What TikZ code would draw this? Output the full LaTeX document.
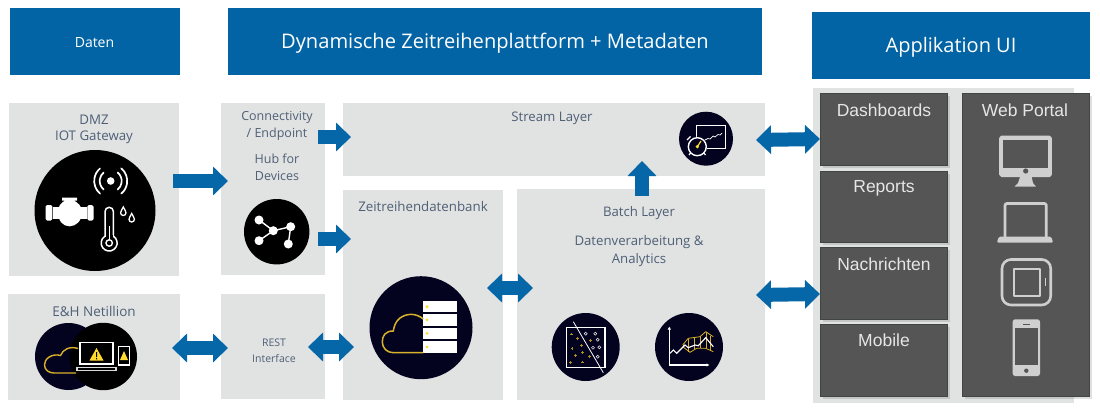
\documentclass[tikz,border=0pt]{standalone}
\usepackage{fontspec}
\setmainfont{Open Sans}
\newfontfamily\arialfont{Liberation Sans}
\usetikzlibrary{arrows.meta}
\definecolor{hdrblue}{HTML}{0264A4}
\definecolor{flowblue}{HTML}{0567A8}
\definecolor{panelgrey}{HTML}{E1E3E3}
\definecolor{darkbox}{HTML}{555555}
\definecolor{darkedge}{HTML}{3F4444}
\definecolor{slatetext}{HTML}{4F5F75}
\definecolor{navy}{HTML}{03021F}
\definecolor{goldline}{HTML}{D9B22B}
\definecolor{yellowdot}{HTML}{FFD92E}
\definecolor{icongrey}{HTML}{CFCFCF}
\definecolor{labelgrey}{HTML}{E6E6E6}
\tikzset{
  hdr/.style={fill=hdrblue,draw=none,inner sep=0pt,outer sep=0pt,text=white},
  layerbox/.style={fill=panelgrey,draw=none,inner sep=0pt,outer sep=0pt},
  uibox/.style={fill=darkbox,draw=darkedge,line width=.8pt,inner sep=0pt,outer sep=0pt},
  lbl/.style={text=slatetext,inner sep=0pt,yshift=-1.5pt,font=\fontsize{#1}{#1}\selectfont},
  uilbl/.style={text=labelgrey,inner sep=0pt,font=\arialfont\fontsize{17.5}{18}\selectfont},
  flow/.style={line width=14pt,flowblue,line cap=butt,-{Triangle[length=15pt,width=28pt]}},
  flowboth/.style={line width=14pt,flowblue,line cap=butt,{Triangle[length=15pt,width=28pt]}-{Triangle[length=15pt,width=28pt]}},
  flowsh/.style={flow,black,opacity=.13},
  flowbothsh/.style={flowboth,black,opacity=.13},
  wline/.style={draw=white,line width=1.4pt},
  gline/.style={draw=goldline,line width=1.4pt},
  iline/.style={draw=icongrey,line width=2.2pt,line join=round},
  ifill/.style={fill=icongrey,draw=none},
}
\newcommand{\bx}[6]{%
  \pgfmathsetmacro\bxw{#5-#3}\pgfmathsetmacro\bxh{#6-#4}%
  \pgfmathsetmacro\bxx{(#5+#3)/2}\pgfmathsetmacro\bxy{(#6+#4)/2}%
  \node[#1,minimum width=\bxw pt,minimum height=\bxh pt] (#2) at (\bxx,\bxy) {};}
\begin{document}
\begin{tikzpicture}[x=1pt,y=-1pt]
\useasboundingbox (0,0) rectangle (1100,410);
% headers
\bx{hdr}{hdata}{9.5}{7.5}{179.5}{74.5}
\bx{hdr}{hplat}{228}{7.5}{762}{74.5}
\bx{hdr}{happ}{812}{11.5}{1090}{78.5}
\node[text=white,inner sep=0pt,yshift=-2pt,font=\fontsize{14}{14}\selectfont] (tdata) at (hdata) {Daten};
\node[text=white,inner sep=0pt,yshift=-2.5pt,font=\fontsize{20.1}{21}\selectfont] (tplat) at (hplat) {Dynamische Zeitreihenplattform + Metadaten};
\node[text=white,inner sep=0pt,yshift=-2.5pt,font=\fontsize{20}{21}\selectfont] (tapp) at (happ) {Applikation UI};
% panels
\bx{layerbox}{dmz}{9}{103}{179}{276}
\bx{layerbox}{net}{8}{294}{180}{400}
\bx{layerbox}{conn}{221}{103}{325}{275}
\bx{layerbox}{rest}{221}{294}{325}{399}
\bx{layerbox}{stream}{343}{103}{765}{176}
\bx{layerbox}{zeit}{343}{190}{503}{400}
\bx{layerbox}{batch}{517}{189}{765}{400}
\bx{layerbox}{uipanel}{813}{88}{1074}{403}
% labels
\node[lbl=13.3] (t1) at (94,118) {DMZ};
\node[lbl=13.3] (t2) at (94,136) {IOT Gateway};
\node[lbl=13.5] (t3) at (94,310) {E\&H Netillion};
\node[lbl=12.5] (t4) at (277,116) {Connectivity};
\node[lbl=12.5] (t5) at (277,133) {/ Endpoint};
\node[lbl=12.5] (t6) at (277,157) {Hub for};
\node[lbl=12.5] (t7) at (277,174) {Devices};
\node[lbl=10.5] (t8) at (274,341) {REST};
\node[lbl=10.5] (t9) at (274,357) {Interface};
\node[lbl=13.3] (t10) at (423,205) {Zeitreihendatenbank};
\node[lbl=13.2] (t11) at (552,117) {Stream Layer};
\node[lbl=13.2] (t12) at (639,212) {Batch Layer};
\node[lbl=13.2] (t13) at (639,241) {Datenverarbeitung \&};
\node[lbl=13.2] (t14) at (639,259) {Analytics};
% ui boxes with shadow
\foreach \a/\b/\c/\d in {820/93/947/165,820/171/947/242,820/247/947/319,820/324/947/396,962/93/1089/396}{
  \fill[black,opacity=.12] (\a+3,\b+3) rectangle (\c+3,\d+3);
}
\bx{uibox}{dash}{820}{93}{947}{165}
\bx{uibox}{reports}{820}{171}{947}{242}
\bx{uibox}{nach}{820}{247}{947}{319}
\bx{uibox}{mobile}{820}{324}{947}{396}
\bx{uibox}{web}{962}{93}{1089}{396}
\node[uilbl] (u1) at (884,110) {Dashboards};
\node[uilbl] (u2) at (884,188.5) {Reports};
\node[uilbl] (u3) at (884,264) {Nachrichten};
\node[uilbl] (u4) at (884,340) {Mobile};
\node[uilbl] (u5) at (1025,110) {Web Portal};
% connectors: shadows
\begin{scope}[shift={(3,3)}]
\draw[flowsh] ([shift={(-7pt,52pt)}]conn.east) -- ([shift={(8pt,2.5pt)}]stream.west);
\draw[flowsh] ([shift={(-7pt,-50pt)}]conn.east) -- ([shift={(8pt,56pt)}]zeit.west);
\draw[flowbothsh] ([shift={(-16pt,7pt)}]zeit.east) -- ([shift={(16pt,6.5pt)}]batch.west);
\draw[flowbothsh] ([shift={(-17pt,-.5pt)}]rest.east) -- ([shift={(11pt,-52pt)}]zeit.west);
\draw[flowsh] ([shift={(1pt,-7pt)}]batch.north) -- ([shift={(88pt,15pt)}]stream.south);
\end{scope}
% connectors
\draw[flow] ([shift={(-6pt,8.5pt)}]dmz.east) -- ([shift={(7pt,8pt)}]conn.west);
\draw[flow] ([shift={(-7pt,52pt)}]conn.east) -- ([shift={(8pt,2.5pt)}]stream.west);
\draw[flow] ([shift={(-7pt,-50pt)}]conn.east) -- ([shift={(8pt,56pt)}]zeit.west);
\draw[flowboth] ([shift={(-16pt,7pt)}]zeit.east) -- ([shift={(16pt,6.5pt)}]batch.west);
\draw[flowboth] ([shift={(-8pt,-1pt)}]net.east) -- ([shift={(7pt,-1.5pt)}]rest.west);
\draw[flowboth] ([shift={(-17pt,-.5pt)}]rest.east) -- ([shift={(11pt,-52pt)}]zeit.west);
\draw[flow] ([shift={(1pt,-7pt)}]batch.north) -- ([shift={(88pt,15pt)}]stream.south);
\draw[flowboth] ([shift={(-9pt,-.5pt)}]stream.east) -- ([shift={(0pt,-10pt)}]dash.west);
\draw[flowboth] ([shift={(-9pt,-.5pt)}]batch.east) -- ([shift={(0pt,-11pt)}]nach.west);
% DMZ icon
\fill[black] (95,210.5) circle (60.5);
\begin{scope}[white]
 \fill (110.7,181) circle (3.8);
 \draw[line width=1.7pt,line cap=round] (110.7,181) ++(130:11) arc (130:230:11);
 \draw[line width=1.7pt,line cap=round] (110.7,181) ++(-50:11) arc (-50:50:11);
 \draw[line width=1.7pt,line cap=round] (110.7,181) ++(130:16.5) arc (130:230:16.5);
 \draw[line width=1.7pt,line cap=round] (110.7,181) ++(-50:16.5) arc (-50:50:16.5);
 % valve
 \fill[rounded corners=1.5pt] (45.7,205) rectangle (52.3,220.5);
 \fill[rounded corners=1.5pt] (87.3,205) rectangle (93.5,220.5);
 \fill (53,207) rectangle (86.5,218.5);
 \fill (62,197.5) -- (77,197.5) -- (77,200.5) -- (74,200.5) .. controls (78,203) and (82,206) .. (82,212) .. controls (82,221) and (76,226.3) .. (69.5,226.3) .. controls (63,226.3) and (58,221) .. (58,212) .. controls (58,206) and (61,203) .. (65,200.5) -- (62,200.5) -- cycle;
 % drops
 \draw[line width=1.3pt] (123.3,207) .. controls (122,210) and (120.6,211) .. (120.6,212.8) arc (180:0:2.7) .. controls (126,211) and (124.6,210) .. (123.3,207) -- cycle;
 \draw[line width=1.3pt] (131.7,213.5) .. controls (130.4,216.5) and (129,217.5) .. (129,219.3) arc (180:0:2.7) .. controls (134.4,217.5) and (133,216.5) .. (131.7,213.5) -- cycle;
 % thermometer
 \draw[line width=1.5pt] (105,236.2) -- (105,211.5) arc (180:360:4.2) -- (113.4,236.2) arc (-58:238:8) -- cycle;
 \fill[black] (105.8,235) rectangle (112.6,238);
 \draw[line width=1.4pt] (109.2,226) -- (109.2,240);
 \draw[line width=1.4pt] (109.2,243) circle (3.2);
\end{scope}
% Netillion icon
\fill[navy] (68.5,356.5) circle (33.5);
\fill[black] (103.3,356.5) circle (33.7);
\draw[gline] (78,348.5) .. controls (70,346) and (63,349) .. (60.5,355.5) .. controls (52,353) and (44,359) .. (44.5,365) .. controls (44.5,370) and (49,373) .. (54,373) -- (76,373);
\begin{scope}[white]
 \draw[line width=1.2pt] (80,342.5) rectangle (113,364);
 \fill[white!85!black] (76,366.5) rectangle (117,371);
 \fill[black] (78,368) rectangle (115,369.5);
 \draw[line width=1.2pt] (118.5,346.5) rectangle (129.5,365);
\end{scope}
\fill[yellowdot] (96.5,348) -- (103.5,360.5) -- (89.5,360.5) -- cycle;
\fill[black] (96,352) rectangle (97,357) (96,358) rectangle (97,359.3);
\fill[yellowdot] (124,351) -- (128,360) -- (120,360) -- cycle;
% Hub icon
\fill[black] (276.7,231.7) circle (32.7);
\begin{scope}[white]
 \draw[line width=1.4pt] (259,220) -- (273.3,230.7) -- (259,240.7);
 \draw[line width=1.4pt] (273.3,230.7) -- (290.7,226.7) -- (288.3,244);
 \foreach \p in {(259,220),(273.3,230.7),(290.7,226.7),(259,240.7),(288.3,244)} \fill \p circle (4.5);
\end{scope}
% DB icon
\fill[navy] (421,327.7) circle (51.5);
\foreach \a/\b in {301/312.3,314/325.7,327.7/339,341/352.7}{
  \fill[white] (423.3,\a) rectangle (457.3,\b);
  \fill[yellowdot] (427,{(\a+\b)/2}) circle (1.6);
}
\draw[gline,line width=1.5pt] (423.3,319) .. controls (416,313) and (407,313) .. (400,318) .. controls (396,321) and (394,326) .. (393.3,331) .. controls (385,331) and (382.3,336) .. (382.3,342) .. controls (382.3,348) and (387,352.7) .. (393.3,352.7) -- (423.3,352.7);
% Stream icon
\fill[navy] (706,138.7) circle (27);
\draw[wline] (696.7,125.7) rectangle (725.5,148.3);
\draw[white,line width=.7pt] (700,144) -- (705,140) -- (708,138.5) -- (710,139) -- (713,136) -- (715,137) -- (718,134.5) -- (720,135) -- (722,133);
\fill[navy] (697.3,146.7) circle (10);
\draw[wline] (697.3,146.7) circle (9);
\draw[white,line width=1.2pt] (689,155) -- (691,152.5) (705.5,155) -- (703.5,152.5);
\draw[white,line width=1.2pt] (687,140) -- (690.5,136.5);
\draw[yellowdot,line width=1.2pt] (697.3,146.7) -- (701,141);
\fill[yellowdot] (697.3,146.7) circle (1.8);
% classification icon
\fill[navy] (585.7,347) circle (34);
\draw[wline] (566.7,327.7) rectangle (605,367.7);
\draw[white,line width=.8pt] (573.3,321.7) -- (603.3,372.7);
\foreach \x/\y in {571.3/334,577.3/338.7,590.3/340.7,581.7/345.7,572/348.7,575.7/355.3,582.3/352.7,589.7/356.7,570.7/362.7,582.7/362}{
  \draw[goldline!80!black,line width=.7pt] (\x-1.4,\y) -- (\x+1.4,\y) (\x,\y-1.4) -- (\x,\y+1.4);
}
\foreach \x/\y in {585.7/333.7,595.3/333.7,597.7/339.7,593/347.7,599.3/347.3,597.7/356.7}{
  \draw[white!85!black,line width=.6pt] (\x,\y) circle (1.5);
}
% chart icon
\fill[navy] (689,347) circle (34);
\draw[white,line width=1.2pt,{Latex[length=3pt,width=3.5pt]}-{Latex[length=3pt,width=3.5pt]}] (669.3,326.5) -- (669.3,365) -- (709.5,365);
\foreach \x/\a/\b in {682.7/345/347,688/339/352,694/338/349,700/336/348,705.7/332/348,710/336/351}{
  \draw[goldline,line width=.35pt] (\x,\a) -- (\x,\b);
}
\draw[goldline,line width=.8pt] (682.7,345) -- (688.3,338.3) -- (700,336.7) -- (705.7,331.7) -- (713.3,336.7);
\draw[goldline,line width=.8pt] (682.7,346.7) -- (690,352.3) -- (696.7,348.3) -- (705.7,348.3) -- (713.3,351.7);
\draw[white,line width=1.1pt] (670,353.3) -- (673.3,350) -- (676.7,353.3) -- (685,345) -- (688.3,347.7) -- (695,345) -- (698.3,345.7) -- (705.7,337.7) -- (713.3,346.7);
% monitor
\draw[iline,rounded corners=1.5pt,fill=icongrey] (1000.3,136.7) rectangle (1050.7,176);
\fill[darkbox] (1003.3,140) rectangle (1047.7,167.7);
\fill[darkbox] (1025.7,171) circle (2.6);
\fill[ifill] (1020,177) -- (1031.7,177) -- (1033,183) -- (1036,186.7) -- (1014.5,186.7) -- (1018,183) -- cycle;
% laptop
\draw[iline,line width=2.8pt,rounded corners=2pt] (1005,237) -- (1005,203.5) -- (1046.3,203.5) -- (1046.3,237);
\fill[ifill,rounded corners=1.5pt] (999,236.5) -- (1051,236.5) -- (1053.3,242.7) -- (996.7,242.7) -- cycle;
% tablet
\draw[iline,line width=2.6pt,rounded corners=9pt] (1002,259.5) rectangle (1050.7,305);
\draw[iline,line width=2pt] (1014,269) rectangle (1039.5,296);
\fill[ifill] (1044.5,278) rectangle (1046.3,286);
% phone
\fill[ifill,rounded corners=2.5pt] (1012.7,319.3) rectangle (1040,376);
\fill[darkbox] (1015,328.3) rectangle (1038,365);
\fill[darkbox] (1026.3,370.7) circle (2.2);
\fill[darkbox] (1022.5,323.5) rectangle (1030,324.5);
\end{tikzpicture}
\end{document}
